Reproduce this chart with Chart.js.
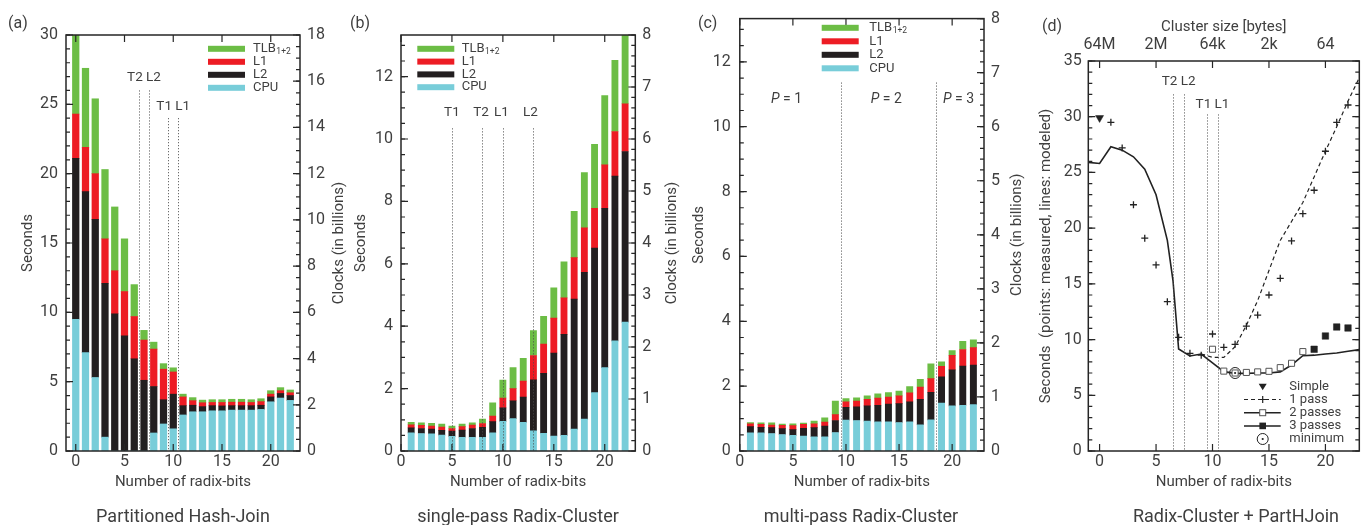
<!DOCTYPE html>
<html>
<head>
<meta charset="utf-8">
<script src="https://cdn.jsdelivr.net/npm/chart.js"></script>
<style>
html, body { margin: 0; padding: 0; background: #fff; }
#wrap { position: relative; width: 1369px; height: 525px; overflow: hidden; }
canvas { position: absolute; top: 0; }
</style>
</head>
<body>
<div id="wrap">
  <canvas id="pa" width="350" height="525" style="left:0px"></canvas>
  <canvas id="pb" width="340" height="525" style="left:345px"></canvas>
  <canvas id="pc" width="345" height="525" style="left:685px"></canvas>
  <canvas id="pd" width="344" height="525" style="left:1025px"></canvas>
</div>
<script>
// ---------- data ----------
var xTickVals = [0, 5, 10, 15, 20];
var clusterSizeLabels = ['64M', '2M', '64k', '2k', '64'];

// (a) Partitioned Hash-Join: seconds per segment (CPU, L2, L1, TLB)
var hjBits = [0, 1, 2, 3, 4, 5, 6, 7, 8, 9, 10, 11, 12, 13, 14, 15, 16, 17, 18, 19, 20, 21, 22];
var hjCpu = [9.5, 7.1, 5.3, 1.0, 0, 0, 0, 0, 1.3, 1.95, 1.6, 2.6, 2.83, 2.83, 2.9, 2.9, 2.95, 2.95, 2.95, 3.0, 3.55, 3.82, 3.65];
var hjL2 = [11.6, 11.6, 11.4, 11.1, 9.9, 8.3, 6.65, 5.1, 3.35, 1.75, 2.5, 0.67, 0.47, 0.37, 0.37, 0.35, 0.32, 0.32, 0.32, 0.3, 0.35, 0.33, 0.35];
var hjL1 = [3.2, 3.2, 3.3, 3.2, 3.1, 3.2, 3.05, 2.9, 2.7, 2.2, 1.6, 0.63, 0.33, 0.28, 0.23, 0.25, 0.25, 0.25, 0.23, 0.26, 0.2, 0.2, 0.2];
var hjTlb = [5.7, 5.7, 5.4, 5.0, 4.6, 3.8, 2.3, 0.7, 0.5, 0.4, 0.3, 0.2, 0.22, 0.19, 0.2, 0.2, 0.21, 0.21, 0.2, 0.21, 0.25, 0.22, 0.2];
var hjLines = [6.5, 7.5, 9.5, 10.5];
var hjLineTops = [26, 26, 24, 24];
var hjMarks = [{ text: 'T2 L2', x: 7, y: 26.93 }, { text: 'T1 L1', x: 10, y: 24.87 }];

// (b) single-pass Radix-Cluster
var rcBits = [1, 2, 3, 4, 5, 6, 7, 8, 9, 10, 11, 12, 13, 14, 15, 16, 17, 18, 19, 20, 21, 22];
var rcCpu = [0.58, 0.56, 0.55, 0.51, 0.47, 0.44, 0.44, 0.44, 0.58, 0.95, 1.04, 0.92, 0.65, 0.57, 0.48, 0.50, 0.70, 1.02, 1.87, 2.67, 3.53, 4.13];
var rcL2 = [0.16, 0.16, 0.15, 0.15, 0.17, 0.23, 0.28, 0.32, 0.36, 0.43, 0.57, 0.81, 1.63, 1.92, 2.66, 3.24, 4.17, 4.71, 4.63, 5.11, 5.28, 5.47];
var rcL1 = [0.10, 0.10, 0.10, 0.11, 0.08, 0.11, 0.11, 0.12, 0.18, 0.32, 0.39, 0.51, 0.78, 0.94, 1.12, 1.17, 1.33, 1.42, 1.28, 1.39, 1.43, 1.53];
var rcTlb = [0.08, 0.08, 0.09, 0.09, 0.08, 0.08, 0.07, 0.14, 0.42, 0.57, 0.67, 0.73, 0.80, 0.89, 0.97, 1.15, 1.48, 1.77, 2.05, 2.22, 2.28, 2.20];
var rcLines = [5, 8, 10, 13];
var rcLineTops = [10.34, 10.34, 10.34, 10.34];
var rcMarks = [{ text: 'T1', x: 5, y: 10.86 }, { text: 'T2', x: 7.85, y: 10.86 }, { text: 'L1', x: 9.85, y: 10.86 }, { text: 'L2', x: 12.7, y: 10.86 }];

// (c) multi-pass Radix-Cluster
var mpBits = [1, 2, 3, 4, 5, 6, 7, 8, 9, 10, 11, 12, 13, 14, 15, 16, 17, 18, 19, 20, 21, 22];
var mpCpu = [0.56, 0.56, 0.54, 0.51, 0.48, 0.46, 0.44, 0.44, 0.57, 0.95, 0.94, 0.92, 0.90, 0.90, 0.88, 0.90, 0.81, 0.96, 1.48, 1.39, 1.41, 1.43];
var mpL2 = [0.19, 0.17, 0.18, 0.18, 0.18, 0.24, 0.28, 0.33, 0.37, 0.40, 0.42, 0.47, 0.51, 0.55, 0.58, 0.62, 0.78, 0.85, 0.81, 1.11, 1.21, 1.22];
var mpL1 = [0.09, 0.09, 0.08, 0.10, 0.12, 0.12, 0.12, 0.12, 0.18, 0.17, 0.18, 0.20, 0.22, 0.21, 0.24, 0.27, 0.38, 0.42, 0.32, 0.45, 0.51, 0.54];
var mpTlb = [0.04, 0.05, 0.07, 0.04, 0.06, 0.04, 0.08, 0.13, 0.42, 0.10, 0.10, 0.11, 0.13, 0.14, 0.15, 0.20, 0.24, 0.46, 0.14, 0.15, 0.25, 0.24];
var mpLines = [9.5, 18.5];
var mpLineTops = [11.36, 11.36];
var mpMarks = [{ p: '1', x: 4.4, y: 10.84 }, { p: '2', x: 13.8, y: 10.84 }, { p: '3', x: 20.6, y: 10.84 }];

// (d) Radix-Cluster + PartHJoin
var simpleBits = [0];
var simpleSec = [29.9];
var pass1Bits = [1, 2, 3, 4, 5, 6, 7, 8, 9, 10, 11, 12, 13, 14, 15, 16, 17, 18, 19, 20, 21, 22];
var pass1Sec = [29.5, 27.2, 22.1, 19.1, 16.7, 13.4, 10.2, 8.77, 8.6, 10.5, 9.3, 9.57, 11.2, 12.2, 14.0, 15.5, 18.85, 21.3, 23.4, 26.9, 29.5, 31.05];
var pass2Bits = [10, 11, 12, 13, 14, 15, 16, 17, 18];
var pass2Sec = [9.13, 7.17, 7.0, 7.05, 7.1, 7.15, 7.48, 7.87, 8.92];
var pass3Bits = [19, 20, 21, 22];
var pass3Sec = [9.13, 10.32, 11.13, 11.04];
var minBits = [12];
var minSec = [7.0];
var modelBits = [-1, 0, 1, 2, 3, 4, 5, 6, 6.5, 7, 8, 9, 10, 11, 12, 13, 14, 15, 16, 17, 18, 19, 20, 21, 22, 23];
var modelSec = [25.9, 25.8, 27.3, 27.0, 26.4, 25.3, 23.0, 18.9, 15.3, 9.15, 8.53, 8.7, 7.9, 7.12, 6.97, 6.97, 7.0, 7.0, 7.1, 7.72, 8.55, 8.6, 8.7, 8.8, 8.95, 9.1];
var onePassModelBits = [9, 10, 11, 12, 13, 14, 15, 16, 17, 18, 19, 20, 21, 22, 23];
var onePassModelSec = [8.7, 8.4, 8.4, 9.36, 11.28, 13.5, 16.2, 18.9, 20.6, 22.3, 24.6, 26.9, 29.1, 31.4, 33.5];
var dLines = [6.5, 7.5, 9.5, 10.5];
var dLineTops = [32, 32, 30.2, 30.2];
var dMarks = [{ text: 'T2 L2', x: 7, y: 33.15 }, { text: 'T1 L1', x: 10, y: 31.06 }];

// ---------- styling ----------
var C = { tlb: '#6cbd45', l1: '#ed1c24', l2: '#231f20', cpu: '#78cdd9' };
var INK = '#3f3f3f';
var FONT = "Roboto, 'DejaVu Sans', sans-serif";
Chart.defaults.font.family = FONT;
Chart.defaults.color = INK;

function pts(xs, ys) {
    return xs.map(function (x, i) { return { x: x, y: ys[i] }; });
}
// tick positions along an axis
function steps(a, b, st) {
    var r = [];
    for (var v = a; v <= b + 1e-9; v += st) r.push(+v.toFixed(4));
    return r;
}

function text(ctx, str, x, y, size, align, italic) {
    ctx.font = (italic ? 'italic ' : '') + size + 'px ' + FONT;
    ctx.fillStyle = INK;
    ctx.textAlign = align || 'center';
    ctx.textBaseline = 'middle';
    ctx.fillText(str, x, y);
}
function vtext(ctx, str, x, y, size) {
    ctx.save();
    ctx.translate(x, y);
    ctx.rotate(-Math.PI / 2);
    text(ctx, str, 0, 0, size);
    ctx.restore();
}
function pLabel(ctx, n, cx, cy) {
    ctx.font = 'italic 14px ' + FONT;
    var w1 = ctx.measureText('P').width;
    ctx.font = '14px ' + FONT;
    var rest = ' = ' + n;
    var w2 = ctx.measureText(rest).width;
    var x0 = cx - (w1 + w2) / 2;
    text(ctx, 'P', x0, cy, 14, 'left', true);
    text(ctx, rest, x0 + w1, cy, 14, 'left');
}
function marks(ctx, a, scale, vals, len, side) {
    ctx.beginPath();
    vals.forEach(function (v) {
        var p = scale.getPixelForValue(v);
        if (side === 'left') { ctx.moveTo(a.left, p); ctx.lineTo(a.left + len, p); }
        if (side === 'right') { ctx.moveTo(a.right, p); ctx.lineTo(a.right - len, p); }
        if (side === 'bottom') { ctx.moveTo(p, a.bottom); ctx.lineTo(p, a.bottom - len); }
        if (side === 'top') { ctx.moveTo(p, a.top); ctx.lineTo(p, a.top + len); }
    });
    ctx.stroke();
}

function barLegend(ctx, o) {
    var rows = [['TLB', C.tlb, '1+2'], ['L1', C.l1], ['L2', C.l2], ['CPU', C.cpu]];
    rows.forEach(function (r, i) {
        var y = o.legY + i * o.legDy;
        ctx.fillStyle = r[1];
        ctx.fillRect(o.legX - o.off, y - 3, 37, 6);
        text(ctx, r[0], o.legTextX - o.off, y, 13, 'left');
        if (r[2]) {
            var w = ctx.measureText(r[0]).width;
            text(ctx, r[2], o.legTextX - o.off + w + 0.5, y + 3.5, 8.5, 'left');
        }
    });
}

function radixLegend(ctx, o) {
    var X = function (g) { return g - o.off; };
    var mx = X(1262.7), x0 = X(1244), x1 = X(1280.7);
    var ly = [386.7, 399.5, 412.7, 425.9, 439];
    ctx.fillStyle = '#222';
    ctx.beginPath();
    ctx.moveTo(mx - 4, ly[0] - 3); ctx.lineTo(mx + 4, ly[0] - 3); ctx.lineTo(mx, ly[0] + 3.5);
    ctx.closePath(); ctx.fill();
    ctx.strokeStyle = '#222'; ctx.lineWidth = 1.2;
    ctx.setLineDash([4, 3]);
    ctx.beginPath(); ctx.moveTo(x0, ly[1]); ctx.lineTo(x1, ly[1]); ctx.stroke();
    ctx.setLineDash([]);
    ctx.beginPath(); ctx.moveTo(mx - 3.5, ly[1]); ctx.lineTo(mx + 3.5, ly[1]);
    ctx.moveTo(mx, ly[1] - 3.5); ctx.lineTo(mx, ly[1] + 3.5); ctx.stroke();
    ctx.lineWidth = 1.5;
    ctx.beginPath(); ctx.moveTo(x0, ly[2]); ctx.lineTo(x1, ly[2]);
    ctx.moveTo(x0, ly[3]); ctx.lineTo(x1, ly[3]); ctx.stroke();
    ctx.fillStyle = '#fff'; ctx.fillRect(mx - 3, ly[2] - 3, 6, 6);
    ctx.strokeStyle = '#555'; ctx.lineWidth = 1; ctx.strokeRect(mx - 3, ly[2] - 3, 6, 6);
    ctx.fillStyle = '#222'; ctx.fillRect(mx - 3.3, ly[3] - 3.3, 6.6, 6.6);
    ctx.strokeStyle = '#222';
    ctx.beginPath(); ctx.arc(mx, ly[4], 5.5, 0, Math.PI * 2); ctx.stroke();
    ctx.beginPath(); ctx.arc(mx, ly[4], 1.1, 0, Math.PI * 2); ctx.fill();
    var names = ['Simple', '1 pass', '2 passes', '3 passes', 'minimum'];
    names.forEach(function (n, i) { text(ctx, n, X(1289.3), ly[i], 13, 'left'); });
}

function decor(o) {
    return {
        id: 'decor',
        afterDraw: function (chart) {
            var ctx = chart.ctx, a = chart.chartArea, s = chart.scales;
            var X = function (g) { return g - o.off; };
            ctx.save();
            // cache-size markers
            ctx.strokeStyle = '#4a4a4a'; ctx.lineWidth = 1; ctx.setLineDash([1, 2]);
            o.lines.forEach(function (v, i) {
                var px = Math.round(s.x.getPixelForValue(v)) + 0.5;
                ctx.beginPath();
                ctx.moveTo(px, s.y.getPixelForValue(o.lineTops[i]));
                ctx.lineTo(px, a.bottom);
                ctx.stroke();
            });
            ctx.setLineDash([]);
            o.marks.forEach(function (m) {
                var px = s.x.getPixelForValue(m.x), py = s.y.getPixelForValue(m.y);
                if (m.p) pLabel(ctx, m.p, px, py);
                else text(ctx, m.text, px, py, 13.5);
            });
            // frame and inward ticks
            ctx.strokeStyle = '#262626'; ctx.lineWidth = 1.5;
            ctx.strokeRect(a.left, a.top, a.right - a.left, a.bottom - a.top);
            ctx.lineWidth = 1.2;
            marks(ctx, a, s.y, o.yMajor, 7, 'left');
            marks(ctx, a, s.y, o.yMinor, 4, 'left');
            var ry = s.y2 || s.y;
            marks(ctx, a, ry, o.y2Major, 7, 'right');
            marks(ctx, a, ry, o.y2Minor, 4, 'right');
            marks(ctx, a, s.x, xTickVals, 7, 'bottom');
            marks(ctx, a, s.x2 || s.x, xTickVals, 7, 'top');
            // legend
            if (o.legend === 'bars') barLegend(ctx, o);
            else radixLegend(ctx, o);
            // extra texts
            if (o.rightTitleX) vtext(ctx, 'Clocks (in billions)', X(o.rightTitleX), (a.top + a.bottom) / 2, 15);
            text(ctx, o.tag, X(o.tagX), o.tagY, 16, 'left');
            text(ctx, o.caption, X(o.capX), 517, 18);
            ctx.restore();
        }
    };
}

function xAxis(o) {
    return {
        type: 'linear', min: o.xmin, max: 23, offset: false, stacked: true,
        grid: { display: false, drawTicks: false }, border: { display: false },
        afterBuildTicks: function (sc) { sc.ticks = xTickVals.map(function (v) { return { value: v }; }); },
        afterFit: function (sc) { sc.height = 74; },
        ticks: { padding: 1.5, autoSkip: false, maxRotation: 0, font: { size: 16 }, color: INK },
        title: { display: true, text: 'Number of radix-bits', color: INK, font: { size: 15 }, padding: { top: 0, bottom: 34 } }
    };
}

function yAxis(o, title) {
    return {
        type: 'linear', stacked: true, min: 0, max: o.ymax,
        grid: { display: false, drawTicks: false }, border: { display: false },
        afterBuildTicks: function (sc) { sc.ticks = o.yMajor.map(function (v) { return { value: v }; }); },
        afterFit: function (sc) { sc.width = o.leftW; },
        ticks: { padding: o.yPad, autoSkip: false, font: { size: 16 }, color: INK },
        title: { display: true, text: title, color: INK, font: { size: 15 }, padding: { top: o.titlePad, bottom: 0 } }
    };
}

function stackSet(label, xs, ys, color, w) {
    return { label: label, data: pts(xs, ys), backgroundColor: color, borderWidth: 0, barThickness: w, stack: 's' };
}

function barPanel(id, o) {
    new Chart(document.getElementById(id), {
        type: 'bar',
        data: {
            datasets: [
                stackSet('CPU', o.bits, o.cpu, C.cpu, o.barW),
                stackSet('L2', o.bits, o.l2, C.l2, o.barW),
                stackSet('L1', o.bits, o.l1, C.l1, o.barW),
                stackSet('TLB', o.bits, o.tlb, C.tlb, o.barW)
            ]
        },
        options: {
            responsive: false, animation: false, devicePixelRatio: 1, events: [],
            layout: { padding: { top: o.top, left: 0, right: 0, bottom: 0 } },
            plugins: { legend: { display: false }, tooltip: { enabled: false } },
            scales: {
                x: xAxis(o),
                y: yAxis(o, 'Seconds'),
                y2: {
                    type: 'linear', position: 'right', min: 0, max: o.y2max,
                    grid: { display: false, drawTicks: false }, border: { display: false },
                    afterBuildTicks: function (sc) { sc.ticks = o.y2Major.filter(function (v, i) { return i % o.y2Every === 0; }).map(function (v) { return { value: v }; }); },
                    afterFit: function (sc) { sc.width = o.rightW; },
                    ticks: { padding: 7, autoSkip: false, font: { size: 16 }, color: INK }
                }
            }
        },
        plugins: [decor(o)]
    });
}

// (a)
barPanel('pa', {
    off: 0, xmin: -1, leftW: 66, rightW: 50, top: 35, ymax: 30, y2max: 18, barW: 6.6,
    yPad: 8, titlePad: 19.5,
    bits: hjBits, cpu: hjCpu, l2: hjL2, l1: hjL1, tlb: hjTlb,
    yMajor: steps(0, 30, 5), yMinor: steps(0, 30, 1),
    y2Major: steps(0, 18, 2), y2Minor: steps(0, 18, 0.5), y2Every: 1,
    lines: hjLines, lineTops: hjLineTops, marks: hjMarks,
    legend: 'bars', legX: 208, legTextX: 253, legY: 48.8, legDy: 13,
    rightTitleX: 339, tag: '(a)', tagX: 8, tagY: 24, caption: 'Partitioned Hash-Join', capX: 183
});

// (b)
barPanel('pb', {
    off: 345, xmin: 0, leftW: 56, rightW: 49.7, top: 35, ymax: 13.333, y2max: 8, barW: 6.2,
    yPad: 8, titlePad: 7,
    bits: rcBits, cpu: rcCpu, l2: rcL2, l1: rcL1, tlb: rcTlb,
    yMajor: steps(0, 12, 2), yMinor: steps(0, 13.3, 0.5),
    y2Major: steps(0, 8, 1), y2Minor: steps(0, 8, 0.2), y2Every: 1,
    lines: rcLines, lineTops: rcLineTops, marks: rcMarks,
    legend: 'bars', legX: 417.3, legTextX: 461.7, legY: 48.8, legDy: 12.8,
    rightTitleX: 672, tag: '(b)', tagX: 350, tagY: 24, caption: 'single-pass Radix-Cluster', capX: 518
});

// (c)
barPanel('pc', {
    off: 685, xmin: 0, leftW: 54.8, rightW: 46, top: 15, ymax: 13.333, y2max: 8, barW: 6.3,
    yPad: 9, titlePad: 5,
    bits: mpBits, cpu: mpCpu, l2: mpL2, l1: mpL1, tlb: mpTlb,
    yMajor: steps(0, 12, 2), yMinor: steps(0, 13.3, 0.5),
    y2Major: steps(0, 8, 1), y2Minor: steps(0, 8, 0.2), y2Every: 1,
    lines: mpLines, lineTops: mpLineTops, marks: mpMarks,
    legend: 'bars', legX: 821.7, legTextX: 869.3, legY: 27.8, legDy: 13.5,
    rightTitleX: 1017, tag: '(c)', tagX: 698, tagY: 24, caption: 'multi-pass Radix-Cluster', capX: 861
});

// (d)
(function () {
    var o = {
        off: 1025, xmin: -1, leftW: 63.3, ymax: 35, yPad: 6.6, titlePad: 12,
        yMajor: steps(0, 35, 5), yMinor: steps(0, 35, 1),
        y2Major: steps(0, 35, 5), y2Minor: steps(0, 35, 1),
        lines: dLines, lineTops: dLineTops, marks: dMarks,
        legend: 'radix', tag: '(d)', tagX: 1042, tagY: 27, caption: 'Radix-Cluster + PartHJoin', capX: 1236
    };
    var y = yAxis(o, 'Seconds  (points: measured, lines: modeled)');
    y.stacked = false;
    new Chart(document.getElementById('pd'), {
        type: 'line',
        data: {
            datasets: [
                { label: 'min dot', data: pts(minBits, minSec), showLine: false, pointRadius: 1.1, pointBackgroundColor: '#222', pointBorderWidth: 0 },
                { label: 'minimum', data: pts(minBits, minSec), showLine: false, pointRadius: 5.5, pointBackgroundColor: 'rgba(0,0,0,0)', pointBorderColor: '#222', pointBorderWidth: 1 },
                { label: 'Simple', data: pts(simpleBits, simpleSec), showLine: false, pointStyle: 'triangle', pointRotation: 180, pointRadius: 4.6, pointBackgroundColor: '#222', pointBorderColor: '#222', pointBorderWidth: 0.5 },
                { label: '3 passes', data: pts(pass3Bits, pass3Sec), showLine: false, pointStyle: 'rect', pointRadius: 4.6, pointBackgroundColor: '#222', pointBorderColor: '#222', pointBorderWidth: 0.5 },
                { label: '2 passes', data: pts(pass2Bits, pass2Sec), showLine: false, pointStyle: 'rect', pointRadius: 4.3, pointBackgroundColor: '#fff', pointBorderColor: '#555', pointBorderWidth: 1 },
                { label: '1 pass', data: pts(pass1Bits, pass1Sec), showLine: false, pointStyle: 'cross', pointRadius: 3.5, pointBorderColor: '#222', pointBorderWidth: 1.3 },
                { label: '1 pass model', data: pts(onePassModelBits, onePassModelSec), borderColor: '#222', borderWidth: 1.2, borderDash: [4, 3], pointRadius: 0, tension: 0 },
                { label: 'model', data: pts(modelBits, modelSec), borderColor: '#222', borderWidth: 1.6, pointRadius: 0, tension: 0 }
            ]
        },
        options: {
            responsive: false, animation: false, devicePixelRatio: 1, events: [],
            layout: { padding: { top: 0, left: 0, right: 9.7, bottom: 0 } },
            plugins: { legend: { display: false }, tooltip: { enabled: false } },
            scales: {
                x: xAxis(o),
                x2: {
                    type: 'linear', position: 'top', min: -1, max: 23, offset: false,
                    grid: { display: false, drawTicks: false }, border: { display: false },
                    afterBuildTicks: function (sc) { sc.ticks = xTickVals.map(function (v) { return { value: v }; }); },
                    afterFit: function (sc) { sc.height = 61; },
                    ticks: {
                        padding: 6.4, autoSkip: false, maxRotation: 0, font: { size: 16 }, color: INK,
                        callback: function (v) { return clusterSizeLabels[xTickVals.indexOf(v)]; }
                    },
                    title: { display: true, text: 'Cluster size [bytes]', color: INK, font: { size: 15 }, padding: { top: 18.5, bottom: 0 } }
                },
                y: y
            }
        },
        plugins: [decor(o)]
    });
})();
</script>
</body>
</html>
